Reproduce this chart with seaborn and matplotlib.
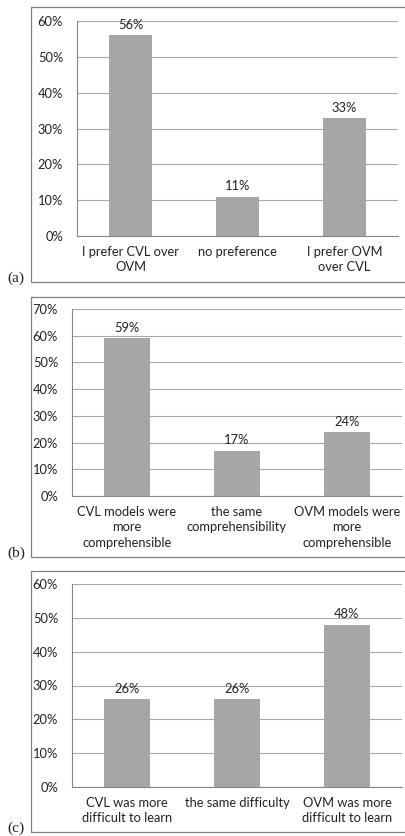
import matplotlib
matplotlib.use("Agg")
import matplotlib.pyplot as plt
import seaborn as sns
import pandas as pd
from matplotlib.patches import Rectangle

sns.set_style("white")
plt.rcParams["font.family"] = ["Lato", "DejaVu Sans"]

# data
cats_a = ["I prefer CVL over\nOVM", "no preference", "I prefer OVM\nover CVL"]
vals_a = [56, 11, 33]
cats_b = ["CVL models were\nmore\ncomprehensible", "the same\ncomprehensibility",
          "OVM models were\nmore\ncomprehensible"]
vals_b = [59, 17, 24]
cats_c = ["CVL was more\ndifficult to learn", "the same difficulty",
          "OVM was more\ndifficult to learn"]
vals_c = [26, 26, 48]
ymax = [60, 70, 60]
tags = ["(a)", "(b)", "(c)"]

W, H = 406, 836
fig = plt.figure(figsize=(W / 100, H / 100), dpi=100)

def px_axes(l, r, t, b):
    return fig.add_axes([l / W, 1 - b / H, (r - l) / W, (b - t) / H])

# axes boxes and panel frames in pixels
axes_px = [(77, 398, 21, 236), (72, 402, 309, 496), (72, 402, 584, 787)]
frames_px = [(31, 7, 282), (31, 297, 557), (31, 571, 832)]

bar_col = "#A6A6A6"
grid_col = "#A8A8A8"
spine_col = "#868686"
fs = 9.3

for i, (cats, vals) in enumerate([(cats_a, vals_a), (cats_b, vals_b), (cats_c, vals_c)]):
    ax = px_axes(*axes_px[i])
    df = pd.DataFrame({"cat": cats, "val": vals})
    sns.barplot(data=df, x="cat", y="val", color=bar_col, width=0.41,
                saturation=1, ax=ax, edgecolor="none")
    ax.bar_label(ax.containers[0], labels=[f"{v}%" for v in vals],
                 padding=3, fontsize=fs, color="#222222")
    ax.set_ylim(0, ymax[i])
    ax.set_xlim(-0.5, 2.5)
    ticks = list(range(0, ymax[i] + 1, 10))
    ax.set_yticks(ticks)
    ax.set_yticklabels([f"{t}%" for t in ticks], fontsize=fs, color="#222222")
    ax.set_xticks([0, 1, 2])
    ax.set_xticklabels(cats, fontsize=fs, color="#222222", linespacing=1.35)
    ax.set_xticks([-0.5, 0.5, 1.5, 2.5], minor=True)
    ax.tick_params(axis="x", which="major", length=0, pad=7)
    ax.tick_params(axis="x", which="minor", length=4, color=spine_col, direction="out")
    ax.tick_params(axis="y", length=4, color=spine_col, direction="out", pad=6)
    ax.set_xlabel("")
    ax.set_ylabel("")
    ax.yaxis.grid(True, color=grid_col, linewidth=0.8)
    ax.set_axisbelow(True)
    for s in ["top", "right"]:
        ax.spines[s].set_visible(False)
    for s in ["left", "bottom"]:
        ax.spines[s].set_color(spine_col)
        ax.spines[s].set_linewidth(0.8)

    fl, ft, fb = frames_px[i]
    fig.patches.append(Rectangle((fl / W, 1 - fb / H), (W + 10 - fl) / W, (fb - ft) / H,
                                 transform=fig.transFigure, fill=False,
                                 edgecolor="#7F7F7F", linewidth=0.9, clip_on=False))
    fig.text(16 / W, 1 - (fb - 4) / H, tags[i], fontsize=11, ha="center", va="center",
             family=["Liberation Serif", "DejaVu Serif"], color="#222222")

fig.savefig("out.png", dpi=100)
